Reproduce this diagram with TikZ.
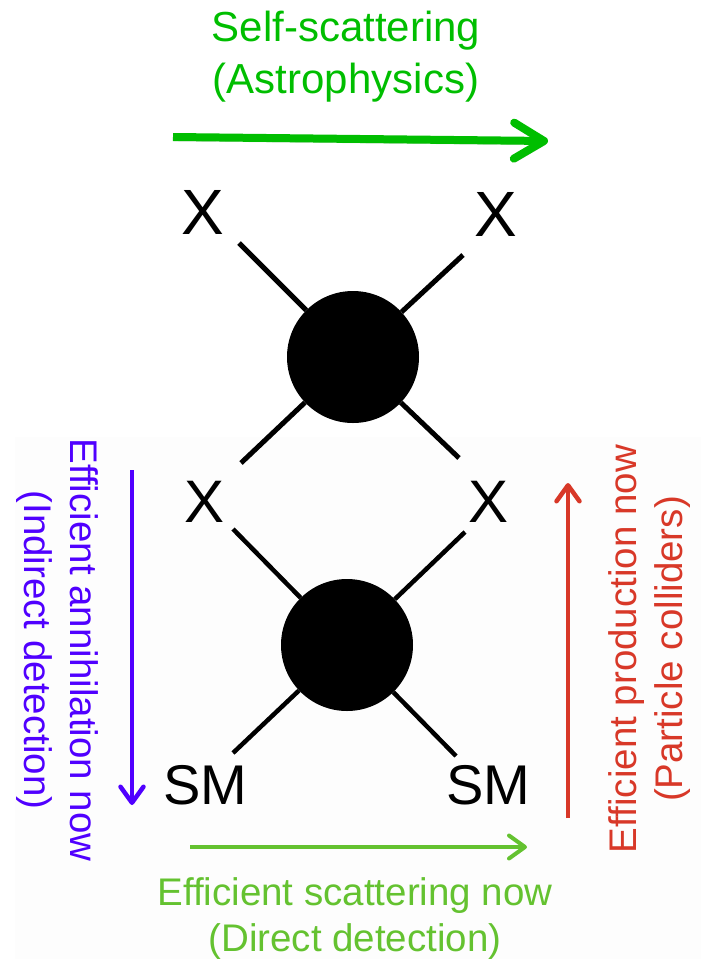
\documentclass[tikz,border=0pt]{standalone}
\usepackage{fontspec}
\setmainfont{Liberation Sans}
\usetikzlibrary{arrows.meta}

\definecolor{selfgreen}{RGB}{0,190,0}
\definecolor{scatgreen}{RGB}{100,194,48}
\definecolor{annblue}{RGB}{80,0,255}
\definecolor{prodred}{RGB}{216,56,40}

\begin{document}
\begin{tikzpicture}[x=1pt,y=-1pt,
  blob/.style={circle,fill=black,inner sep=0pt,minimum size=132pt},
  leg/.style={line width=5pt},
  ptcl/.style={inner sep=0pt,font=\fontsize{60}{60}\selectfont},
  flow/.style={line width=4.5pt,-{Straight Barb[round,length=16pt,width=23pt]}},
  caption/.style={align=center,inner sep=0pt,font=\fontsize{38.5}{46}\selectfont}]
  \useasboundingbox (0,0) rectangle (701,959);
  \fill[black!0.8] (15,437) rectangle (701,959);
  % upper vertex: X X -> X X
  \node[blob] (top) at (353,357) {};
  \coordinate (t1) at (239,243);
  \coordinate (t2) at (463,255);
  \coordinate (t3) at (241,463);
  \coordinate (t4) at (459,458);
  \foreach \c in {t1,t2,t3,t4} \draw[leg] (\c) -- (top);
  \node[ptcl,font=\fontsize{64}{64}\selectfont] (xa) at (203,212) {X};
  \node[ptcl,font=\fontsize{64}{64}\selectfont] (xb) at (496,214) {X};
  % lower vertex: X X -> SM SM
  \node[blob] (bot) at (347,645) {};
  \coordinate (b1) at (233,529);
  \coordinate (b2) at (465,532);
  \coordinate (b3) at (233,753);
  \coordinate (b4) at (456,756);
  \foreach \c in {b1,b2,b3,b4} \draw[leg,line width=4.5pt] (\c) -- (bot);
  \node[ptcl] (xc) at (205,502) {X};
  \node[ptcl] (xd) at (489,502) {X};
  \node[ptcl,font=\fontsize{56}{56}\selectfont] (sma) at (205,785) {SM};
  \node[ptcl,font=\fontsize{56}{56}\selectfont] (smb) at (488,785) {SM};
  % arrows and their captions
  \coordinate (ss0) at (173,137);
  \coordinate (ss1) at (548,141);
  \draw[selfgreen,line width=8pt,-{Straight Barb[round,length=30pt,width=36pt]},
    preaction={draw=black!18,transform canvas={shift={(1pt,-4pt)}}}] (ss0) -- (ss1);
  \node[caption,anchor=north,text=selfgreen,font=\fontsize{42}{52}\selectfont]
    (selftxt) at (346,11) {Self-scattering\\(Astrophysics)};
  \coordinate (ds0) at (190,847);
  \coordinate (ds1) at (527,847);
  \draw[flow,scatgreen,line width=4pt] (ds0) -- (ds1);
  \node[caption,anchor=north,text=scatgreen] (dirtxt) at (355,877)
    {Efficient scattering now\\(Direct detection)};
  \coordinate (id0) at (132,470);
  \coordinate (id1) at (132,805);
  \draw[flow,annblue] (id0) -- (id1);
  \node[caption,rotate=-90,text=annblue] (indtxt) at (57,650)
    {Efficient annihilation now\\(Indirect detection)};
  \coordinate (pc0) at (568,818);
  \coordinate (pc1) at (568,483);
  \draw[flow,prodred] (pc0) -- (pc1);
  \node[caption,rotate=90,text=prodred] (coltxt) at (650,649)
    {Efficient production now\\(Particle colliders)};
\end{tikzpicture}
\end{document}
